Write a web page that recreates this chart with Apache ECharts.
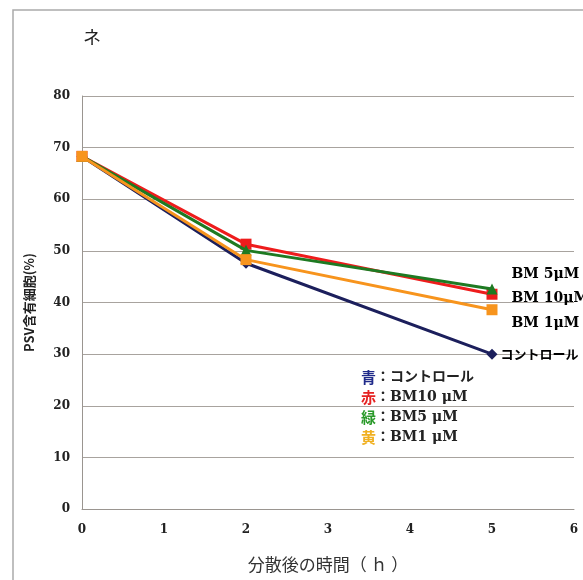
<!DOCTYPE html>
<html><head><meta charset="utf-8">
<script src="https://cdn.jsdelivr.net/npm/echarts@6/dist/echarts.min.js"></script>
<style>html,body{margin:0;padding:0;background:#fff}#c{width:583px;height:580px}</style>
</head><body><div id="c"></div>
<script>
const hours = [0, 2, 5];
const control = [68.3, 47.6, 30.0];
const bm10 = [68.3, 51.3, 41.6];
const bm5 = [68.3, 50.1, 42.6];
const bm1 = [68.3, 48.3, 38.6];
const xTicks = [0, 1, 2, 3, 4, 5, 6];
const yTicks = [0, 10, 20, 30, 40, 50, 60, 70, 80];

const serif = '"DejaVu Serif", "Liberation Serif", serif';
const jp = '"Noto Sans CJK JP", sans-serif';

function pts(vals){ return hours.map((h,i)=>[h, vals[i]]); }
function endLabel(vals, text, dy, size){
  const d = pts(vals);
  d[d.length-1] = {value: d[d.length-1], label: {show: true, position: 'right', formatter: text, offset: [dy[0], dy[1]],
    fontFamily: text === 'コントロール' ? jp : serif, fontWeight: 'bold', fontSize: size, color: '#000'}};
  return d;
}

const chart = echarts.init(document.getElementById('c'));
chart.setOption({
  animation: false,
  grid: {left: 82, right: 9, top: 96, bottom: 71},
  xAxis: {type: 'value', min: 0, max: 6, interval: 1,
    axisLine: {show: true, lineStyle: {color: '#9a9590', width: 1}},
    axisTick: {show: false}, splitLine: {show: false},
    axisLabel: {fontFamily: serif, fontWeight: 'bold', fontSize: 12, color: '#222', margin: 15},
    name: '分散後の時間（ ｈ ）', nameLocation: 'middle', nameGap: 47,
    nameTextStyle: {fontFamily: jp, fontSize: 17, color: '#333', fontWeight: 'normal'}},
  yAxis: {type: 'value', min: 0, max: 80, interval: 10,
    axisLine: {show: true, lineStyle: {color: '#9a9590', width: 1}},
    axisTick: {show: false},
    splitLine: {show: true, lineStyle: {color: '#a8a39e', width: 1}},
    axisLabel: {fontFamily: serif, fontWeight: 'bold', fontSize: 12, color: '#222', margin: 12},
    name: 'PSV含有細胞(%)', nameLocation: 'middle', nameGap: 46, nameRotate: 90,
    nameTextStyle: {fontFamily: jp, fontSize: 13, color: '#222', fontWeight: 'bold'}},
  series: [
    {type: 'line', name: 'コントロール', data: endLabel(control, 'コントロール', [-2, 0], 13),
      symbol: 'diamond', symbolSize: 11, lineStyle: {color: '#1c1f5c', width: 3}, itemStyle: {color: '#1c1f5c'}, z: 2},
    {type: 'line', name: 'BM10 μM', data: endLabel(bm10, 'BM 10μM', [9, 4], 14),
      symbol: 'rect', symbolSize: 11, lineStyle: {color: '#ee1c1c', width: 3}, itemStyle: {color: '#ee1c1c'}, z: 3},
    {type: 'line', name: 'BM5 μM', data: endLabel(bm5, 'BM 5μM', [9, -15], 14),
      symbol: 'triangle', symbolSize: 11, lineStyle: {color: '#1e7a22', width: 3}, itemStyle: {color: '#1e7a22'}, z: 4},
    {type: 'line', name: 'BM1 μM', data: endLabel(bm1, 'BM 1μM', [9, 14], 14),
      symbol: 'rect', symbolSize: 11, lineStyle: {color: '#f7941d', width: 3}, itemStyle: {color: '#f7941d'}, z: 5}
  ],
  graphic: [
    {type: 'rect', shape: {x: 13, y: 10, width: 620, height: 620}, style: {fill: 'none', stroke: '#aaa', lineWidth: 1.5}, silent: true},
    {type: 'text', left: 83, top: 28, style: {text: 'ネ', font: '18px "Noto Sans CJK JP"', fill: '#222'}},
    {type: 'text', left: 361, top: 370, style: {
      text: '{n|青}{t|：コントロール}\n{r|赤}{t|：BM10 μM}\n{g|緑}{t|：BM5 μM}\n{y|黄}{t|：BM1 μM}',
      rich: {
        n: {fill: '#1f2a8a', font: 'bold 15px "Noto Sans CJK JP"', lineHeight: 20},
        r: {fill: '#e52222', font: 'bold 15px "Noto Sans CJK JP"', lineHeight: 20},
        g: {fill: '#2a9a2a', font: 'bold 15px "Noto Sans CJK JP"', lineHeight: 20},
        y: {fill: '#f0b020', font: 'bold 15px "Noto Sans CJK JP"', lineHeight: 20},
        t: {fill: '#222', font: 'bold 14px "DejaVu Serif", "Noto Sans CJK JP"', lineHeight: 20}
      }}}
  ]
});
</script></body></html>
